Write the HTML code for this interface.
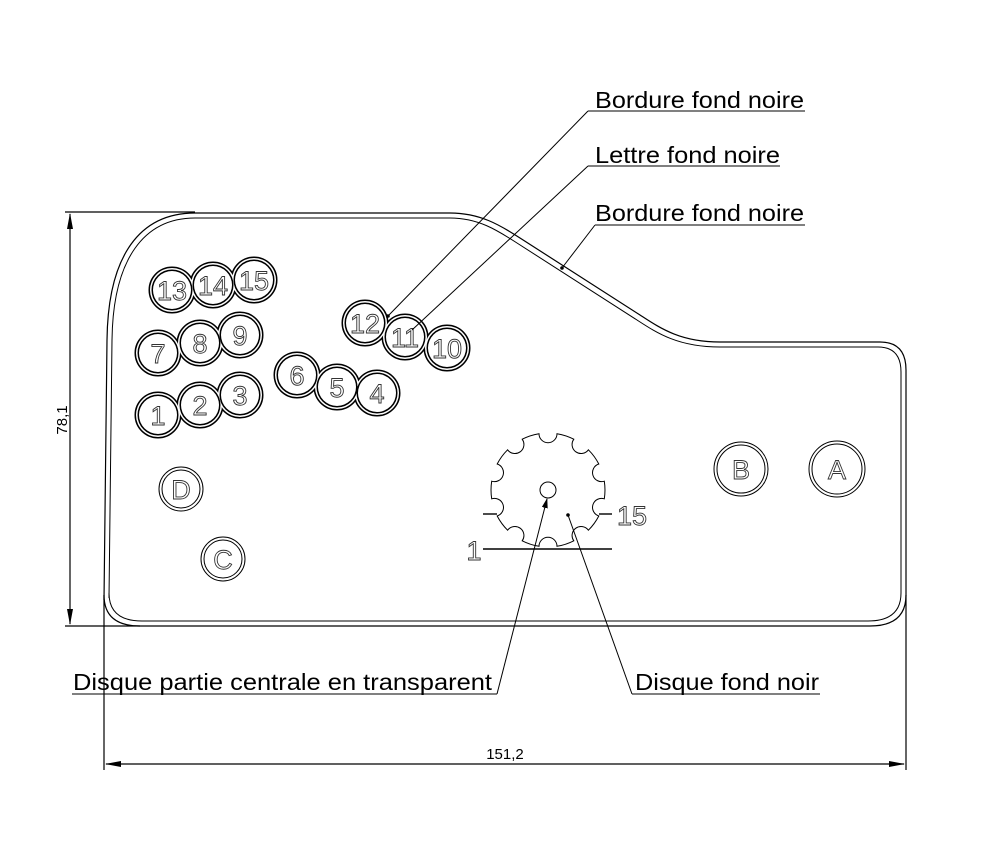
<!DOCTYPE html>
<html><head><meta charset="utf-8"><style>
html,body{margin:0;padding:0;background:#fff;}
svg{display:block;}
.t{font-family:"Liberation Sans",sans-serif;fill:#000;}
.o{font-family:"Liberation Sans",sans-serif;fill:#fff;stroke:#333;stroke-width:0.9;font-size:27px;text-anchor:middle;}
</style></head><body>
<svg width="994" height="846" viewBox="0 0 994 846" xmlns="http://www.w3.org/2000/svg">
<defs>
<marker id="ar" markerWidth="10" markerHeight="10" refX="9" refY="3" orient="auto" markerUnits="userSpaceOnUse">
<path d="M0,0 L10,3 L0,6 Z" fill="#000"/></marker>
<marker id="ar2" markerWidth="16" markerHeight="8" refX="15" refY="3" orient="auto-start-reverse" markerUnits="userSpaceOnUse">
<path d="M0,0 L16,3 L0,6 Z" fill="#000"/></marker>
</defs>
<g fill="none" stroke="#000" stroke-width="1.2">
<path d="M104,600 L107,340 C108,255 140,213 195,213 L450,213 C480,213 500,225 520,238 L640,315 C660,328 680,342 720,342 L880,342 Q906,342 906,370 L906,595 Q906,626 870,626 L140,626 Q104,626 104,595 Z"/>
<path d="M109,598 L112,340 C113,259 144,218 195,218 L450,218 C478,218 497,230 517,243 L637,320 C657,333 678,347 720,347 L878,347 Q901,347 901,372 L901,593 Q901,621 868,621 L142,621 Q109,621 109,593 Z" stroke-width="1"/>
<line x1="65" y1="212" x2="195" y2="212"/>
<line x1="65" y1="626" x2="140" y2="626"/>
<line x1="70" y1="214" x2="70" y2="624" marker-start="url(#ar2)" marker-end="url(#ar2)"/>
<line x1="104" y1="595" x2="104" y2="770"/>
<line x1="906" y1="595" x2="906" y2="770"/>
<line x1="106" y1="764" x2="904" y2="764" marker-start="url(#ar2)" marker-end="url(#ar2)"/>
</g>
<g stroke="#000" stroke-width="1">
<g fill="#000"><circle cx="172" cy="290" r="23"/><circle cx="213" cy="285" r="23"/><circle cx="254" cy="280" r="23"/>
<circle cx="158" cy="353" r="23"/><circle cx="200" cy="343" r="23"/><circle cx="240" cy="335" r="23"/>
<circle cx="158" cy="415" r="23"/><circle cx="200" cy="405" r="23"/><circle cx="240" cy="395" r="23"/>
<circle cx="297" cy="375" r="23"/><circle cx="337" cy="387" r="23"/><circle cx="377" cy="393" r="23"/>
<circle cx="365" cy="323" r="23"/><circle cx="405" cy="337" r="23"/><circle cx="447" cy="348" r="23"/></g>
<g fill="#fff" stroke="none"><circle cx="172" cy="290" r="22"/><circle cx="213" cy="285" r="22"/><circle cx="254" cy="280" r="22"/>
<circle cx="158" cy="353" r="22"/><circle cx="200" cy="343" r="22"/><circle cx="240" cy="335" r="22"/>
<circle cx="158" cy="415" r="22"/><circle cx="200" cy="405" r="22"/><circle cx="240" cy="395" r="22"/>
<circle cx="297" cy="375" r="22"/><circle cx="337" cy="387" r="22"/><circle cx="377" cy="393" r="22"/>
<circle cx="365" cy="323" r="22"/><circle cx="405" cy="337" r="22"/><circle cx="447" cy="348" r="22"/></g>
<g fill="#000"><circle cx="172" cy="290" r="20"/><circle cx="213" cy="285" r="20"/><circle cx="254" cy="280" r="20"/>
<circle cx="158" cy="353" r="20"/><circle cx="200" cy="343" r="20"/><circle cx="240" cy="335" r="20"/>
<circle cx="158" cy="415" r="20"/><circle cx="200" cy="405" r="20"/><circle cx="240" cy="395" r="20"/>
<circle cx="297" cy="375" r="20"/><circle cx="337" cy="387" r="20"/><circle cx="377" cy="393" r="20"/>
<circle cx="365" cy="323" r="20"/><circle cx="405" cy="337" r="20"/><circle cx="447" cy="348" r="20"/></g>
<g fill="#fff" stroke="none"><circle cx="172" cy="290" r="19"/><circle cx="213" cy="285" r="19"/><circle cx="254" cy="280" r="19"/>
<circle cx="158" cy="353" r="19"/><circle cx="200" cy="343" r="19"/><circle cx="240" cy="335" r="19"/>
<circle cx="158" cy="415" r="19"/><circle cx="200" cy="405" r="19"/><circle cx="240" cy="395" r="19"/>
<circle cx="297" cy="375" r="19"/><circle cx="337" cy="387" r="19"/><circle cx="377" cy="393" r="19"/>
<circle cx="365" cy="323" r="19"/><circle cx="405" cy="337" r="19"/><circle cx="447" cy="348" r="19"/></g>
<g fill="none">
<circle cx="181" cy="489" r="22"/><circle cx="181" cy="489" r="19"/>
<circle cx="223" cy="559" r="22"/><circle cx="223" cy="559" r="19"/>
<circle cx="741" cy="469" r="27"/><circle cx="741" cy="469" r="24"/>
<circle cx="837" cy="469" r="28"/><circle cx="837" cy="469" r="25"/>
</g>
</g>
<g class="o">
<text x="172" y="300">13</text><text x="213" y="295">14</text><text x="254" y="290">15</text>
<text x="158" y="363">7</text><text x="200" y="353">8</text><text x="240" y="345">9</text>
<text x="158" y="425">1</text><text x="200" y="415">2</text><text x="240" y="405">3</text>
<text x="297" y="385">6</text><text x="337" y="397">5</text><text x="377" y="403">4</text>
<text x="365" y="333">12</text><text x="405" y="347">11</text><text x="447" y="358">10</text>
<text x="181" y="499">D</text><text x="223" y="569">C</text>
<text x="741" y="479">B</text><text x="837" y="479">A</text>
<text x="632" y="525">15</text><text x="474" y="560">1</text>
</g>
<g fill="none" stroke="#000" stroke-width="1">
<path d="M557.0,433.7 A9,9 0 0 1 539.0,433.7 A57,57 0 0 0 522.2,439.2 A9,9 0 0 1 507.6,449.8 A57,57 0 0 0 497.2,464.0 A9,9 0 0 1 491.7,481.2 A57,57 0 0 0 491.7,498.8 A9,9 0 0 1 497.2,516.0 A57,57 0 0 0 507.6,530.2 A9,9 0 0 1 522.2,540.8 A57,57 0 0 0 539.0,546.3 A9,9 0 0 1 557.0,546.3 A57,57 0 0 0 573.8,540.8 A9,9 0 0 1 588.4,530.2 A57,57 0 0 0 598.8,516.0 A9,9 0 0 1 604.3,498.8 A57,57 0 0 0 604.3,481.2 A9,9 0 0 1 598.8,464.0 A57,57 0 0 0 588.4,449.8 A9,9 0 0 1 573.8,439.2 A57,57 0 0 0 557.0,433.7 Z"/>
<circle cx="548" cy="490" r="8"/>
<line x1="483" y1="549" x2="612" y2="549" stroke-width="1.4"/>
<line x1="483" y1="514" x2="497" y2="514" stroke-width="1.4"/>
<line x1="599" y1="514" x2="612" y2="514" stroke-width="1.4"/>
</g>
<g stroke="#000" stroke-width="1" fill="none">
<line x1="588" y1="111" x2="805" y2="111"/>
<line x1="588" y1="111" x2="388" y2="316"/>
<line x1="588" y1="166" x2="780" y2="166"/>
<line x1="588" y1="166" x2="412" y2="330"/>
<line x1="595" y1="225" x2="805" y2="225"/>
<line x1="595" y1="225" x2="562" y2="268"/>
<line x1="72" y1="694" x2="497" y2="694"/>
<line x1="497" y1="694" x2="547" y2="499" marker-end="url(#ar)"/>
<line x1="632" y1="694" x2="820" y2="694"/>
<line x1="632" y1="694" x2="568" y2="515"/>
</g>
<g fill="#000"><circle cx="388" cy="316" r="1.8"/><circle cx="562" cy="268" r="1.8"/><circle cx="568" cy="515" r="1.8"/></g>
<g class="t" font-size="23">
<text x="595" y="108" textLength="209" lengthAdjust="spacingAndGlyphs">Bordure fond noire</text>
<text x="595" y="163" textLength="185" lengthAdjust="spacingAndGlyphs">Lettre fond noire</text>
<text x="595" y="221" textLength="209" lengthAdjust="spacingAndGlyphs">Bordure fond noire</text>
<text x="73" y="690" textLength="419" lengthAdjust="spacingAndGlyphs">Disque partie centrale en transparent</text>
<text x="635" y="690" textLength="184" lengthAdjust="spacingAndGlyphs">Disque fond noir</text>
</g>
<text class="t" x="505" y="759" font-size="15" text-anchor="middle">151,2</text>
<text class="t" font-size="15" text-anchor="middle" transform="translate(67,420) rotate(-90)">78,1</text>
</svg>
</body></html>
